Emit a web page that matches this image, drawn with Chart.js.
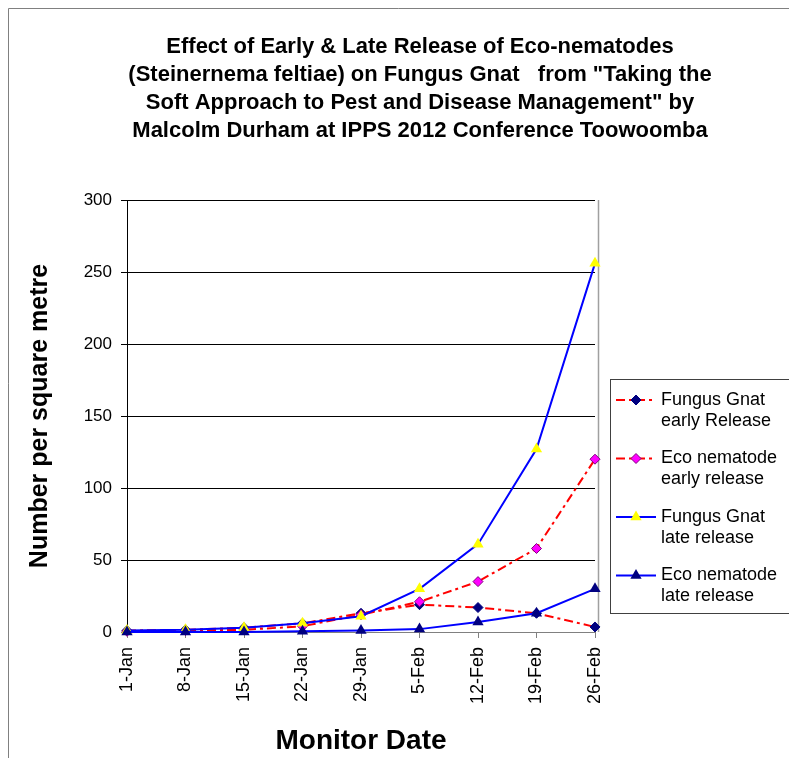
<!DOCTYPE html>
<html>
<head>
<meta charset="utf-8">
<script src="https://cdn.jsdelivr.net/npm/chart.js@4/dist/chart.umd.min.js"></script>
<style>
  body { margin: 0; background: #fff; }
  #wrap { width: 789px; height: 758px; }
</style>
</head>
<body>
<div id="wrap"><canvas id="myChart"></canvas></div>
<script>
const labels = ["1-Jan", "8-Jan", "15-Jan", "22-Jan", "29-Jan", "5-Feb", "12-Feb", "19-Feb", "26-Feb"];

const fungusGnatEarly = [1, 1.5, 3, 6, 13, 19, 17, 13, 3.5];
const ecoNematodeEarly = [0.5, 1, 1.5, 4, 12, 21, 35, 58, 120];
const fungusGnatLate = [1, 1.5, 3, 6, 11, 30, 61, 127, 256];
const ecoNematodeLate = [0, 0, 0, 0.5, 1, 2, 7, 13, 30];

const seriesNames = [
  ["Fungus Gnat", "early Release"],
  ["Eco nematode", "early release"],
  ["Fungus Gnat", "late release"],
  ["Eco nematode", "late release"],
];

const titleLines = [
  "Effect of Early & Late Release of Eco-nematodes",
  "(Steinernema feltiae) on Fungus Gnat   from \"Taking the",
  "Soft Approach to Pest and Disease Management\" by",
  "Malcolm Durham at IPPS 2012 Conference Toowoomba",
];

const FONT = "'Liberation Sans', Arial, sans-serif";
const dashDot = [9, 4, 3, 4];

// frame round the picture and right edge of the plot area
const framePlugin = {
  id: "frame",
  beforeDraw(chart) {
    const ctx = chart.ctx;
    ctx.save();
    ctx.fillStyle = "#fff";
    ctx.fillRect(0, 0, chart.width, chart.height);
    ctx.strokeStyle = "#808080";
    ctx.lineWidth = 1;
    ctx.beginPath();
    ctx.moveTo(8.5, chart.height);
    ctx.lineTo(8.5, 8.5);
    ctx.lineTo(chart.width, 8.5);
    ctx.stroke();
    ctx.restore();
  },
  beforeDatasetsDraw(chart) {
    const { ctx, chartArea } = chart;
    ctx.save();
    ctx.strokeStyle = "#a0a0a0";
    ctx.lineWidth = 1.5;
    ctx.beginPath();
    ctx.moveTo(Math.round(chartArea.right) + 3.5, chartArea.top);
    ctx.lineTo(Math.round(chartArea.right) + 3.5, chartArea.bottom);
    ctx.stroke();
    ctx.restore();
  },
};

// two-line legend in a box to the right of the plot
const boxLegend = {
  id: "boxLegend",
  afterDraw(chart) {
    const ctx = chart.ctx;
    const left = chart.chartArea.right + 15;
    const top = 379;
    ctx.save();
    ctx.strokeStyle = "#404040";
    ctx.lineWidth = 1;
    ctx.strokeRect(left + 0.5, top + 0.5, 200, 234);
    ctx.font = "18px " + FONT;
    ctx.textBaseline = "middle";
    ctx.fillStyle = "#000";
    chart.data.datasets.forEach((ds, i) => {
      const y = top + 21 + i * 58.5;
      ctx.save();
      ctx.strokeStyle = ds.borderColor;
      ctx.lineWidth = 2;
      ctx.setLineDash(ds.borderDash || []);
      ctx.beginPath();
      ctx.moveTo(left + 6, y);
      ctx.lineTo(left + 46, y);
      ctx.stroke();
      ctx.restore();
      ctx.save();
      ctx.fillStyle = ds.pointBackgroundColor;
      ctx.strokeStyle = ds.pointBorderColor;
      Chart.helpers.drawPoint(ctx, {
        pointStyle: ds.pointStyle,
        radius: ds.pointRadius,
        borderWidth: ds.pointBorderWidth,
        rotation: 0,
      }, left + 26, y);
      ctx.restore();
      ctx.fillText(seriesNames[i][0], left + 51, y);
      ctx.fillText(seriesNames[i][1], left + 51, y + 21);
    });
    ctx.restore();
  },
};

const data = {
  labels: labels,
  datasets: [
    {
      data: fungusGnatEarly,
      borderColor: "#ff0000",
      borderWidth: 2,
      borderDash: dashDot,
      pointStyle: "rectRot",
      pointRadius: 5,
      pointBackgroundColor: "#000080",
      pointBorderColor: "#000080",
      pointBorderWidth: 1,
      order: 3,
    },
    {
      data: ecoNematodeEarly,
      borderColor: "#ff0000",
      borderWidth: 2,
      borderDash: dashDot,
      pointStyle: "rectRot",
      pointRadius: 5,
      pointBackgroundColor: "#ff00ff",
      pointBorderColor: "#800080",
      pointBorderWidth: 1,
      order: 2,
    },
    {
      data: fungusGnatLate,
      borderColor: "#0000ff",
      borderWidth: 2,
      pointStyle: "triangle",
      pointRadius: 6.5,
      pointBackgroundColor: "#ffff00",
      pointBorderColor: "#ffff00",
      pointBorderWidth: 0,
      order: 1,
    },
    {
      data: ecoNematodeLate,
      borderColor: "#0000ff",
      borderWidth: 2,
      pointStyle: "triangle",
      pointRadius: 6.5,
      pointBackgroundColor: "#000080",
      pointBorderColor: "#000080",
      pointBorderWidth: 0,
      order: 0,
    },
  ],
};

data.datasets.forEach((ds) => {
  ds.yAxisID = "y";
  ds.tension = 0;
  ds.fill = false;
  ds.clip = false;
});

const config = {
  type: "line",
  data: data,
  plugins: [framePlugin, boxLegend],
  options: {
    responsive: true,
    maintainAspectRatio: false,
    animation: false,
    layout: {
      padding: { left: 51, right: 0, top: 0, bottom: 0 },
    },
    plugins: {
      legend: { display: false },
      tooltip: { enabled: false },
      title: {
        display: true,
        text: titleLines,
        color: "#000",
        font: { family: FONT, size: 22, weight: "bold", lineHeight: 28 / 22 },
        padding: { top: 33, bottom: 55 },
      },
    },
    scales: {
      x: {
        grid: {
          display: true,
          drawOnChartArea: false,
          drawTicks: true,
          tickLength: 6,
          color: "#808080",
        },
        border: { display: true, color: "#808080" },
        ticks: {
          color: "#000",
          font: { family: FONT, size: 18 },
          minRotation: 90,
          maxRotation: 90,
          padding: 9,
        },
        title: {
          display: true,
          text: "Monitor Date",
          color: "#000",
          font: { family: FONT, size: 28, weight: "bold" },
          padding: { top: 0, bottom: 0 },
        },
        afterFit(scale) {
          scale.height = 126;
        },
      },
      y: {
        min: 0,
        max: 300,
        grid: {
          color: (c) => (c.tick && c.tick.value === 0 ? "#808080" : "#000"),
          lineWidth: 1,
          drawTicks: true,
          tickLength: 6,
        },
        border: { display: true, color: "#000" },
        ticks: {
          stepSize: 50,
          color: "#000",
          font: { family: FONT, size: 17 },
          padding: 9,
        },
        title: {
          display: true,
          text: "Number per square metre",
          color: "#000",
          font: { family: FONT, size: 25, weight: "bold" },
          padding: { top: -26, bottom: 0 },
        },
        afterFit(scale) {
          scale.width = 76;
        },
      },
      yRight: {
        position: "right",
        display: true,
        grid: { display: false },
        border: { display: false },
        ticks: { display: false },
        afterFit(scale) {
          scale.width = 194;
        },
      },
    },
  },
};

const myChart = new Chart(document.getElementById("myChart"), config);
</script>
</body>
</html>
